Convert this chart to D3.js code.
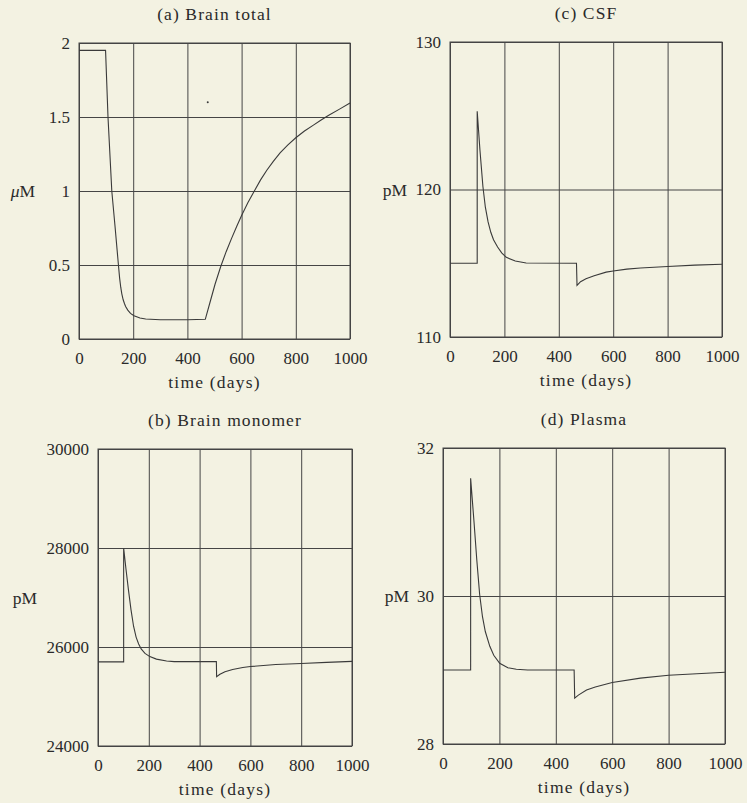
<!DOCTYPE html>
<html>
<head>
<meta charset="utf-8">
<script src="https://cdn.jsdelivr.net/npm/d3@7"></script>
<style>
  body { margin:0; background:#f3f2e2; }
  svg { display:block; }
  text { font-family:"Liberation Serif","DejaVu Serif",serif; fill:#2a2a2a; }
</style>
</head>
<body>
<div id="root"></div>
<script>
// ---- data ----
const xTicks = [0, 200, 400, 600, 800, 1000]

// (a) Brain total, uM
const brainTotalDays = [0, 98, 107, 121, 133, 145, 150, 154, 158, 163, 168, 172, 180, 190, 203, 225, 246, 300, 400, 466, 483, 502, 523, 543, 563, 583, 600, 623, 647, 670, 693, 717, 742, 770, 800, 832, 865, 892, 920, 963, 1000]
const brainTotalVals = [1.95, 1.95, 1.5, 1.0, 0.76, 0.51, 0.41, 0.35, 0.305, 0.265, 0.238, 0.22, 0.195, 0.173, 0.157, 0.142, 0.135, 0.13, 0.13, 0.133, 0.245, 0.37, 0.49, 0.59, 0.68, 0.765, 0.835, 0.92, 1.0, 1.075, 1.14, 1.2, 1.257, 1.31, 1.36, 1.405, 1.445, 1.478, 1.51, 1.555, 1.595]
const brainTotalTicks = [0, 0.5, 1, 1.5, 2]
const brainTotalSpeck = [[475, 1.6]]

// (c) CSF, pM
const csfDays = [0, 100, 100, 110, 121, 130, 140, 150, 160, 175, 190, 207, 240, 280, 465, 467, 480, 500, 530, 574, 600, 650, 700, 800, 900, 1000]
const csfVals = [115, 115, 125.3, 122.7, 120.2, 118.8, 117.8, 117.1, 116.6, 116.1, 115.7, 115.4, 115.15, 115.02, 115.0, 113.5, 113.75, 113.95, 114.15, 114.4, 114.47, 114.6, 114.68, 114.78, 114.87, 114.93]
const csfTicks = [110, 120, 130]

// (b) Brain monomer, pM
const monomerDays = [0, 101, 101, 110, 120, 130, 140, 150, 160, 170, 185, 204, 230, 270, 300, 466, 467, 480, 500, 530, 570, 600, 700, 800, 900, 1000]
const monomerVals = [25700, 25700, 28000, 27580, 27150, 26750, 26420, 26200, 26060, 25960, 25870, 25806, 25755, 25718, 25705, 25705, 25400, 25450, 25500, 25545, 25585, 25605, 25645, 25668, 25690, 25710]
const monomerTicks = [24000, 26000, 28000, 30000]

// (d) Plasma, pM
const plasmaDays = [0, 98, 98, 110, 120, 130, 140, 150, 166, 180, 201, 230, 260, 300, 465, 467, 480, 509, 540, 580, 600, 700, 800, 900, 1000]
const plasmaVals = [29.0, 29.0, 31.59, 31.0, 30.48, 30.02, 29.72, 29.52, 29.32, 29.2, 29.09, 29.03, 29.01, 29.0, 29.0, 28.62, 28.66, 28.73, 28.77, 28.81, 28.83, 28.89, 28.93, 28.95, 28.97]
const plasmaTicks = [28, 30, 32]

// ---- layout ----
const W = 747, H = 803
const ink = "#454545"

const panels = [
  {title:"(a) Brain total", days:brainTotalDays, vals:brainTotalVals, yTicks:brainTotalTicks,
   unit:"uM", box:{left:79, right:350, top:43, bottom:339}, unitX:23, specks:brainTotalSpeck},
  {title:"(c) CSF", days:csfDays, vals:csfVals, yTicks:csfTicks,
   unit:"pM", box:{left:450, right:722, top:42, bottom:337}, unitX:395},
  {title:"(b) Brain monomer", days:monomerDays, vals:monomerVals, yTicks:monomerTicks,
   unit:"pM", box:{left:98, right:352, top:449, bottom:746}, unitX:25},
  {title:"(d) Plasma", days:plasmaDays, vals:plasmaVals, yTicks:plasmaTicks,
   unit:"pM", box:{left:443, right:725, top:448, bottom:744}, unitX:397}
]

const svg = d3.select("#root").append("svg")
  .attr("width", W)
  .attr("height", H)

svg.append("rect").attr("width", W).attr("height", H).attr("fill", "#f3f2e2")

panels.forEach(p => {
  const b = p.box
  const w = b.right - b.left, h = b.bottom - b.top
  const x = d3.scaleLinear().domain([0, 1000]).range([b.left, b.right])
  const y = d3.scaleLinear().domain(d3.extent(p.yTicks)).range([b.bottom, b.top])

  const g = svg.append("g")

  // x axis + vertical grid
  const xa = g.append("g")
    .attr("transform", `translate(0,${b.bottom})`)
    .call(d3.axisBottom(x).tickValues(xTicks).tickSize(-h).tickPadding(13).tickFormat(d => d))
  // y axis + horizontal grid
  const ya = g.append("g")
    .attr("transform", `translate(${b.left},0)`)
    .call(d3.axisLeft(y).tickValues(p.yTicks).tickSize(-w).tickPadding(9).tickFormat(d => d))

  ;[xa, ya].forEach(a => {
    a.select(".domain").remove()
    a.selectAll("line").attr("stroke", ink).attr("stroke-width", 1)
    a.selectAll("text").attr("font-size", 17).attr("fill", "#2a2a2a")
      .style("font-family", '"Liberation Serif","DejaVu Serif",serif')
  })

  // frame
  g.append("rect")
    .attr("x", b.left).attr("y", b.top)
    .attr("width", w).attr("height", h)
    .attr("fill", "none").attr("stroke", ink).attr("stroke-width", 1)

  // curve
  const pts = p.days.map((d, i) => [d, p.vals[i]])
  g.append("path")
    .datum(pts)
    .attr("d", d3.line().x(d => x(d[0])).y(d => y(d[1])))
    .attr("fill", "none")
    .attr("stroke", "#3a3a3a")
    .attr("stroke-width", 1.1)

  if (p.specks) {
    g.selectAll(".speck").data(p.specks).enter().append("circle")
      .attr("cx", d => x(d[0])).attr("cy", d => y(d[1]))
      .attr("r", 1).attr("fill", "#3a3a3a")
  }

  // title
  g.append("text")
    .attr("x", (b.left + b.right) / 2)
    .attr("y", b.top - 23)
    .attr("text-anchor", "middle")
    .attr("font-size", 17.5)
    .attr("letter-spacing", 1.1)
    .text(p.title)

  // x label
  g.append("text")
    .attr("x", (b.left + b.right) / 2)
    .attr("y", b.bottom + 49)
    .attr("text-anchor", "middle")
    .attr("font-size", 17.5)
    .attr("letter-spacing", 1.2)
    .text("time (days)")

  // unit label
  const u = g.append("text")
    .attr("x", p.unitX)
    .attr("y", (b.top + b.bottom) / 2 + 6)
    .attr("text-anchor", "middle")
    .attr("font-size", 17.5)
  if (p.unit === "uM") {
    u.append("tspan").attr("font-style", "italic").text("\u03bc")
    u.append("tspan").text("M")
  } else {
    u.text(p.unit)
  }
})
</script>
</body>
</html>
